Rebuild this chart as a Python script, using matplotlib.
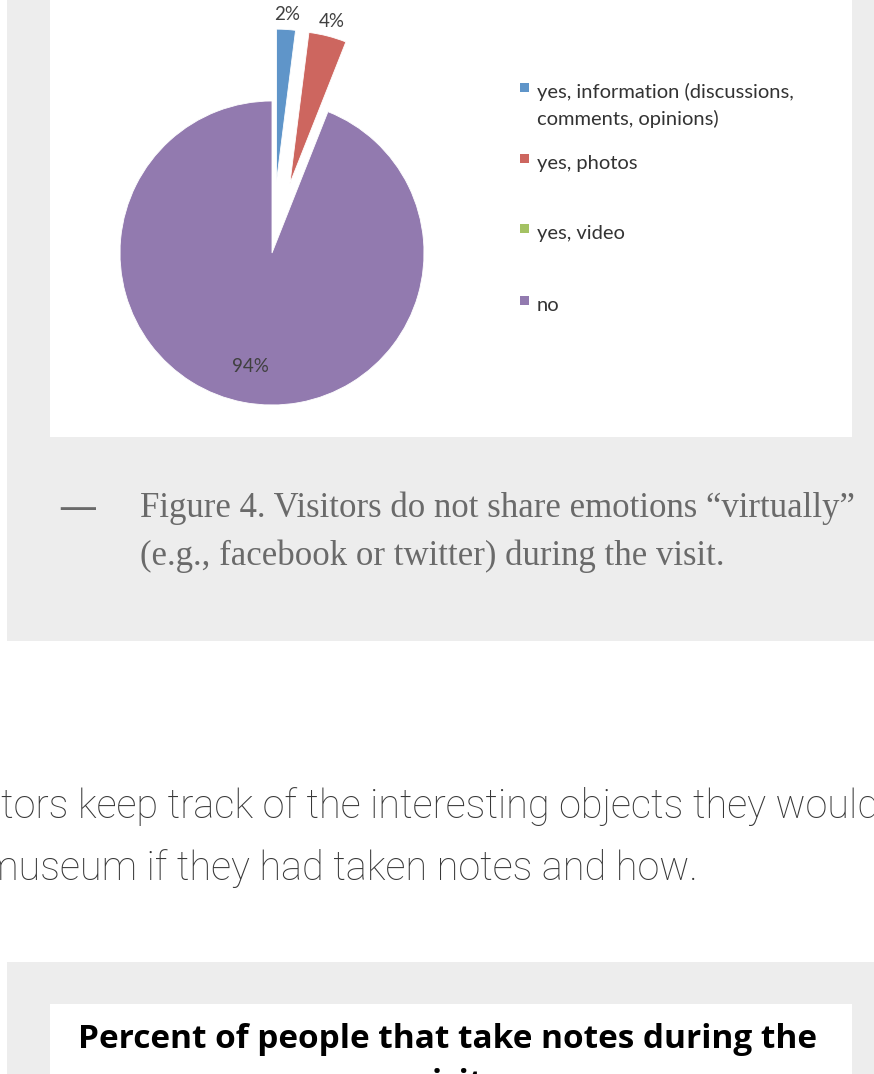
import matplotlib.pyplot as plt
import matplotlib.patches as patches
import numpy as np

# answers to "do you share emotions virtually during the visit?"
categories = ['yes, information (discussions,\ncomments, opinions)',
              'yes, photos', 'yes, video', 'no']
shares = [2, 4, 0, 94]
colors = ['#5f95c9', '#cd665f', '#a4c263', '#927aaf']

caption_lines = ['Figure 4. Visitors do not share emotions \u201cvirtually\u201d',
                 '(e.g., facebook or twitter) during the visit.']
body_lines = ['tors keep track of the interesting objects they would',
              'museum if they had taken notes and how.']
next_title = ['Percent of people that take notes during the', 'visit']

W, H = 874, 1074
fig = plt.figure(figsize=(W / 100, H / 100), dpi=100)
ax = fig.add_axes([0, 0, 1, 1])

# page blocks: grey figure panels with white chart cards
ax.add_patch(patches.Rectangle((7, -10), 900, 651, facecolor='#ededed', edgecolor='none', zorder=0))
ax.add_patch(patches.Rectangle((50, -10), 802, 447, facecolor='white', edgecolor='none', zorder=0))
ax.add_patch(patches.Rectangle((7, 962), 900, 200, facecolor='#ededed', edgecolor='none', zorder=0))
ax.add_patch(patches.Rectangle((50, 1004), 802, 200, facecolor='white', edgecolor='none', zorder=0))

# pie (y axis is flipped, so start at -90 and run counter-clockwise in data space)
center = (272, 253)
radius = 152
explode = [72 if 0 < s < 10 else 0 for s in shares]
wedges, _ = ax.pie(shares, colors=colors, explode=explode, center=center, radius=radius,
                   startangle=-90, counterclock=True,
                   wedgeprops=dict(linewidth=0.6, edgecolor='white'))
for w in wedges:
    w.set_zorder(2)

for w, s in zip(wedges, shares):
    if s == 0:
        continue
    mid = np.deg2rad((w.theta1 + w.theta2) / 2)
    dist = 1.1 if s < 10 else 0.76
    cx, cy = w.center
    ax.text(cx + dist * w.r * np.cos(mid), cy + dist * w.r * np.sin(mid), f'{s}%',
            ha='center', va='center', fontsize=13.5, family='Lato', color='#404040', zorder=3)

# legend
legend_y = [98, 169, 239, 311]
for lab, col, y in zip(categories, colors, legend_y):
    ax.add_patch(patches.Rectangle((520, y - 15), 9, 9, facecolor=col, edgecolor='none', zorder=3))
    for k, line in enumerate(lab.split('\n')):
        ax.text(537, y + 27 * k, line, ha='left', va='baseline', fontsize=14.5,
                family='Lato', color='#333333', zorder=3)

# caption
ax.text(60, 517, '\u2014', ha='left', va='baseline', fontsize=25, fontweight='bold',
        family='Liberation Serif', color='#6a6a6a')
for k, line in enumerate(caption_lines):
    ax.text(140, 517 + 48 * k, line, ha='left', va='baseline', fontsize=25,
            family='Liberation Serif', color='#6a6a6a')

# running text of the article
ax.text(1, 818, body_lines[0], ha='left', va='baseline', fontsize=28.5,
        family='Roboto', fontweight='light', color='#383838')
ax.text(-17, 880, body_lines[1], ha='left', va='baseline', fontsize=28.5,
        family='Roboto', fontweight='light', color='#383838')

# title of the next chart
ax.text(448, 1048, next_title[0], ha='center', va='baseline', fontsize=24,
        family='Open Sans', fontweight='bold', color='black')
ax.text(448, 1093, next_title[1], ha='center', va='baseline', fontsize=24,
        family='Open Sans', fontweight='bold', color='black')

ax.set_xlim(0, W)
ax.set_ylim(H, 0)
ax.set_aspect('auto')
ax.axis('off')

fig.savefig('out.png', dpi=100, facecolor='white')
